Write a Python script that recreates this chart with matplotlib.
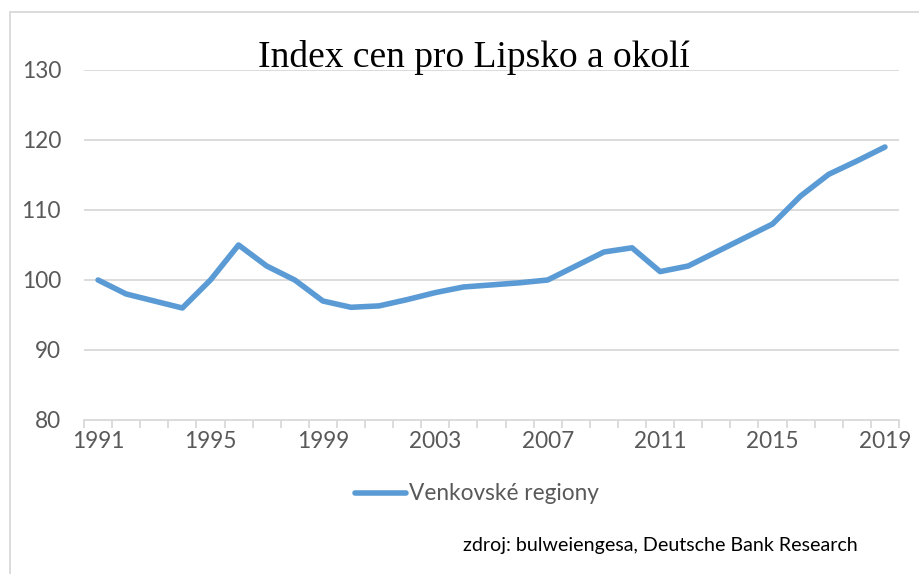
import numpy as np
import matplotlib.pyplot as plt
from matplotlib.patches import Rectangle

# data
years = list(range(1991, 2020))
values = [100, 98, 97, 96, 100, 105, 102, 100, 97, 96.1, 96.3, 97.2, 98.2, 99,
          99.3, 99.6, 100, 102, 104, 104.6, 101.2, 102, 104, 106, 108, 112,
          115.1, 117, 119]
series_name = 'Venkovské regiony'
title = 'Index cen pro Lipsko a okolí'
source = 'zdroj: bulweiengesa, Deutsche Bank Research'
yticks = [80, 90, 100, 110, 120, 130]
xlabels = [1991, 1995, 1999, 2003, 2007, 2011, 2015, 2019]

grey = '#595959'
grid = '#D9D9D9'
blue = '#5B9BD5'
fs = 16.3

fig = plt.figure(figsize=(9.2, 5.74), dpi=100)
ax = fig.add_axes([84/920, 1-420/574, 815/920, 350/574])

x = np.arange(len(years))
ax.plot(x, values, color=blue, lw=4, solid_capstyle='round', solid_joinstyle='round',
        label=series_name)

ax.set_xlim(-0.5, len(years) - 0.5)
ax.set_ylim(80, 130)
ax.set_yticks(yticks)
ax.set_yticklabels([str(v) for v in yticks], family='Lato', fontsize=fs, color=grey)
for v in yticks[1:]:
    ax.axhline(v, color=grid, lw=1.3, zorder=0)

# category axis: ticks between categories, labels every 4th year
ax.set_xticks(np.arange(len(years) + 1) - 0.5, minor=True)
ax.set_xticks([years.index(y) for y in xlabels])
ax.set_xticklabels([str(y) for y in xlabels], family='Lato', fontsize=fs, color=grey)
ax.tick_params(axis='x', which='major', length=0, pad=8)
ax.tick_params(axis='x', which='minor', length=6, width=1.3, color=grid)
ax.tick_params(axis='y', length=0, pad=16.5)

for s in ['top', 'right', 'left']:
    ax.spines[s].set_visible(False)
ax.spines['bottom'].set_color(grid)
ax.spines['bottom'].set_linewidth(1.3)

fig.text(474/920, 1-67/574, title, family='Liberation Serif', fontsize=27,
         ha='center', va='baseline', color='black')

leg = fig.legend(loc='center', bbox_to_anchor=(477/920, 1-494/574), frameon=False,
                 prop={'family': 'Lato', 'size': fs}, handlelength=2.25, handletextpad=0.1)
for t in leg.get_texts():
    t.set_color(grey)

fig.text(463/920, 1-551/574, source, family='Lato', fontsize=14.1, color='black',
         ha='left', va='baseline')

# outer chart border
fig.patches.append(Rectangle((10/920, -0.1), 1.2, 1.1 - 12/574, transform=fig.transFigure,
                             fill=False, edgecolor=grid, lw=1.3))

fig.savefig('out.png', dpi=100)
